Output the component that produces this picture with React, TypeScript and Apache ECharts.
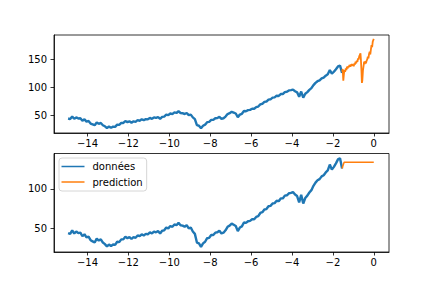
import React, { useEffect, useRef } from "react";
import * as echarts from "echarts";

// Sampling grid of the historical series (years relative to today)
const T0 = -14.95;
const DT = 0.1;

// Historical values ("données")
const donnees = [
  44, 43, 47.5, 43.5, 46, 44, 44.5, 40, 42.5, 38.5,
  39.5, 35, 33.5, 32, 37, 34.5, 36, 32, 30, 27,
  29.5, 27.5, 29.5, 29, 33, 32.5, 36, 36, 39.5, 37.5,
  39, 36.5, 39, 38, 41, 40, 42.5, 41, 43, 42.5,
  45, 43.5, 46, 45, 46.5, 43.5, 47, 47.5, 51, 50,
  53, 52, 55, 54, 57, 54, 53.5, 52, 54, 50,
  51, 46, 43, 32, 31, 26.5, 31, 33, 37.5, 38,
  41.5, 41.5, 44.5, 45, 47, 43.5, 44.5, 47.5, 52, 53.5,
  56, 54.5, 53, 46.5, 51, 52.5, 57.5, 57, 59, 59.5,
  61.5, 61.5, 64.5, 65.5, 69.5, 70.5, 74, 74.5, 78, 78.5,
  81.5, 82, 85, 84.5, 88, 88, 91.5, 92, 94.5, 95,
  96, 93, 91, 83, 92.5, 81.5, 88.5, 91.5, 95.5, 98.5,
  104, 108, 111, 112.5, 116, 117.5, 121, 123.5, 131, 124.5,
  128, 132.5, 137.5, 139, 126,
];

// Observed values after the split (top panel)
const reelX = [
  -1.55, -1.52, -1.49, -1.46, -1.43, -1.4, -1.37, -1.34, -1.31, -1.28,
  -1.25, -1.22, -1.19, -1.16, -1.13, -1.1, -1.07, -1.04, -1.01, -0.98,
  -0.95, -0.92, -0.89, -0.86, -0.83, -0.8, -0.77, -0.74, -0.71, -0.68,
  -0.65, -0.63, -0.6, -0.58, -0.56, -0.53, -0.5, -0.47, -0.44, -0.41,
  -0.38, -0.35, -0.32, -0.29, -0.26, -0.23, -0.2, -0.17, -0.14, -0.11,
  -0.08, -0.05, -0.02, 0,
];
const reelY = [
  128, 133, 112, 124, 131, 128, 134, 131, 137, 134,
  138, 136, 140, 137, 141, 138, 142, 139, 141, 138,
  143, 141, 146, 143, 148, 146, 152, 150, 156, 158,
  161, 150, 128, 108, 112, 130, 138, 146, 142, 147,
  143, 148, 150, 155, 152, 160, 164, 159, 168, 176,
  172, 182, 185, 187,
];

// Model output (bottom panel)
const predX = [-1.55, -1.5, -1.45, 0];
const predY = [126, 130, 134, 134];

const xTicks = [-14, -12, -10, -8, -6, -4, -2, 0];
const yTicksTop = [50, 100, 150];
const yTicksBottom = [50, 100];

const BLUE = "#1f77b4";
const ORANGE = "#ff7f0e";
const FONT = "DejaVu Sans";

const minus = (v: number) => String(v).replace("-", "\u2212");

export default function App() {
  const ref = useRef<HTMLDivElement>(null);

  useEffect(() => {
    if (!ref.current) return;
    const chart = echarts.init(ref.current, undefined, { renderer: "svg" });

    const hist = donnees.map((v, i) => [+(T0 + i * DT).toFixed(2), v]);
    const reel = reelX.map((x, i) => [x, reelY[i]]);
    const pred = predX.map((x, i) => [x, predY[i]]);

    const lineAxis = { show: true, onZero: false, lineStyle: { color: "#000", width: 0.8 } };
    const label = { fontFamily: FONT, fontSize: 10, color: "#000" };

    const xAxis = (gridIndex: number) => ({
      type: "value",
      gridIndex,
      min: -15.64,
      max: 0.745,
      axisLine: lineAxis,
      splitLine: { show: false },
      axisTick: { show: true, length: 3.5, customValues: xTicks, lineStyle: { color: "#000", width: 0.8 } },
      axisLabel: { ...label, margin: 5, customValues: xTicks, formatter: minus },
    });
    const yAxis = (gridIndex: number, min: number, max: number, ticks: number[]) => ({
      type: "value",
      gridIndex,
      min,
      max,
      axisLine: lineAxis,
      splitLine: { show: false },
      axisTick: { show: true, length: 3.5, customValues: ticks, lineStyle: { color: "#000", width: 0.8 } },
      axisLabel: { ...label, margin: 7, customValues: ticks, formatter: minus },
    });

    const lineSeries = (name: string, data: number[][], color: string, axis: number, width: number) => ({
      name,
      type: "line",
      data,
      xAxisIndex: axis,
      yAxisIndex: axis,
      showSymbol: false,
      symbol: "none",
      clip: true,
      lineStyle: { color, width },
      itemStyle: { color },
    });

    chart.setOption({
      animation: false,
      backgroundColor: "#fff",
      grid: [
        { left: 54, top: 35, width: 335, height: 98, show: true, borderColor: "#000", borderWidth: 0.8, backgroundColor: "transparent" },
        { left: 54, top: 153.5, width: 335, height: 98.5, show: true, borderColor: "#000", borderWidth: 0.8, backgroundColor: "transparent" },
      ],
      xAxis: [xAxis(0), xAxis(1)],
      yAxis: [yAxis(0, 18, 194, yTicksTop), yAxis(1, 20, 145, yTicksBottom)],
      legend: {
        data: ["données", "prediction"],
        orient: "vertical",
        left: 59,
        top: 158,
        icon: "rect",
        itemWidth: 23,
        itemHeight: 1.5,
        itemGap: 3.5,
        padding: [2.5, 4, 3, 2.5],
        backgroundColor: "rgba(255,255,255,0.8)",
        borderColor: "#cccccc",
        borderWidth: 0.8,
        borderRadius: 3,
        selectedMode: false,
        textStyle: { fontFamily: FONT, fontSize: 10, color: "#000", lineHeight: 12, padding: [0, 0, 0, 3] },
      },
      series: [
        lineSeries("historique", hist, BLUE, 0, 2.4),
        lineSeries("réel", reel, ORANGE, 0, 1.8),
        lineSeries("données", hist, BLUE, 1, 2.4),
        lineSeries("prediction", pred, ORANGE, 1, 1.5),
      ],
    });

    return () => chart.dispose();
  }, []);

  return <div ref={ref} style={{ position: "fixed", left: 0, top: 0, width: 432, height: 288 }} />;
}
